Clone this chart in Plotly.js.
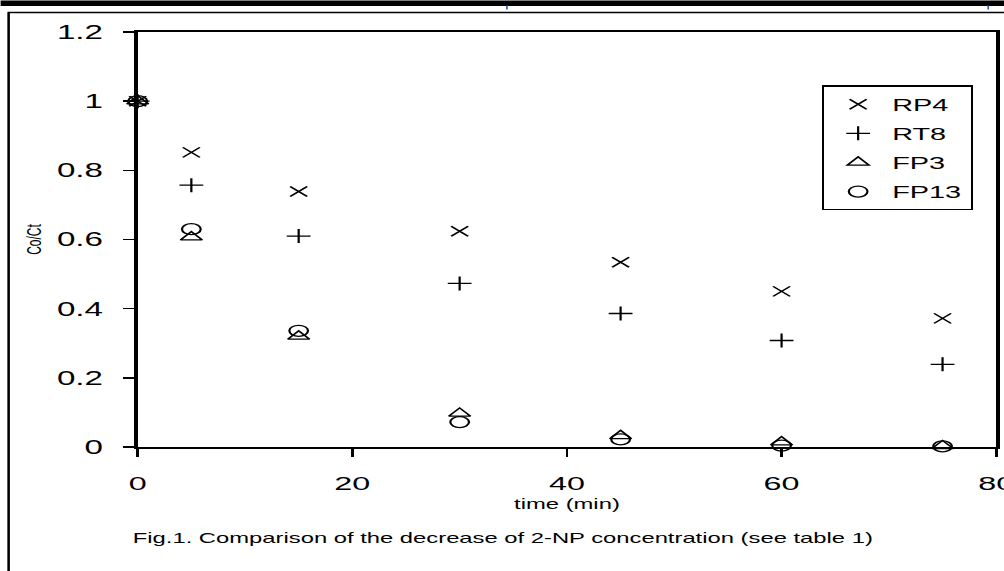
<!DOCTYPE html>
<html>
<head>
<meta charset="utf-8">
<script src="https://cdn.plot.ly/plotly-3.0.1.min.js"></script>
<style>
  html, body { margin: 0; padding: 0; background: #ffffff; overflow: hidden; }
  #chart { position: absolute; left: 0; top: 0; transform-origin: 0 0; }
</style>
</head>
<body>
<div id="chart"></div>
<script>
// ---- data ----
const time = [0, 5, 15, 30, 45, 60, 75];
const rp4  = [1, 0.852, 0.739, 0.624, 0.534, 0.450, 0.372];
const rt8  = [1, 0.757, 0.610, 0.473, 0.386, 0.308, 0.239];
const fp3  = [1, 0.607, 0.320, 0.097, 0.032, 0.014, 0.003];
const fp13 = [1, 0.630, 0.336, 0.072, 0.022, 0.004, 0.002];
const seriesNames = ["RP4", "RT8", "FP3", "FP13"];
const xTicks = [0, 20, 40, 60, 80];
const yTicks = [0, 0.2, 0.4, 0.6, 0.8, 1, 1.2];
const captionText = "Fig.1. Comparison of the decrease of 2-NP concentration (see table 1)";

// ---- geometry (the reference is horizontally stretched) ----
const S = 1.7;               // horizontal stretch
const FW = 1004, H = 571;    // final size
const W = FW / S;            // internal width
const L = 137 / S, R = W - 995 / S, T = 31.5, B = H - 446.6;
const PW = W - L - R, PH = H - T - B;
const px = fx => (fx / S - L) / PW;     // final px -> paper x
const py = fy => (H - B - fy) / PH;     // final px -> paper y

const el = document.getElementById('chart');
el.style.width = W + 'px';
el.style.height = H + 'px';
el.style.transform = 'scaleX(' + S + ')';

const FONT = 'Liberation Sans, Arial, sans-serif';
const symbols = ['x-thin-open', 'cross-thin-open', 'triangle-up-open', 'circle-open'];
const sizes = [10, 10, 11, 11];
const ys = [rp4, rt8, fp3, fp13];

const traces = ys.map((y, i) => ({
  type: 'scatter', mode: 'markers', x: time, y: y, name: seriesNames[i],
  legendgroup: 'g' + i,
  marker: { symbol: symbols[i], size: sizes[i], color: '#000', line: { color: '#000', width: 1.3 } },
  cliponaxis: false
}));

const shapes = [
  // thick bar at very top
  { type: 'rect', xref: 'paper', yref: 'paper', x0: px(0), x1: px(FW), y0: py(0), y1: py(5.5),
    fillcolor: '#000', line: { width: 0 } },
  // frame top border
  { type: 'line', xref: 'paper', yref: 'paper', x0: px(7), x1: px(FW + 5), y0: py(12), y1: py(12),
    line: { color: '#000', width: 1.6 } },
  // frame left border
  { type: 'line', xref: 'paper', yref: 'paper', x0: px(8), x1: px(8), y0: py(12), y1: py(H + 5),
    line: { color: '#000', width: 1.5 } },
  // little blue marks under the top bar
  { type: 'line', xref: 'paper', yref: 'paper', x0: px(506), x1: px(506), y0: py(5), y1: py(9),
    line: { color: '#3a5fa8', width: 1 } },
  { type: 'line', xref: 'paper', yref: 'paper', x0: px(987), x1: px(987), y0: py(5), y1: py(9),
    line: { color: '#3a5fa8', width: 1 } }
];

const layout = {
  width: W, height: H,
  margin: { l: L, r: R, t: T, b: B, pad: 0 },
  paper_bgcolor: '#fff', plot_bgcolor: '#fff',
  font: { family: FONT, color: '#000' },
  showlegend: true,
  legend: {
    x: px(821), y: py(85), xanchor: 'left', yanchor: 'top',
    bgcolor: '#fff', bordercolor: '#000', borderwidth: 1.2,
    font: { family: FONT, size: 17, color: '#000' },
    traceorder: 'grouped', tracegroupgap: 4, itemwidth: 30
  },
  xaxis: {
    range: [0, 80], tickvals: xTicks, ticktext: xTicks.map(String),
    showgrid: false, zeroline: false,
    showline: true, linecolor: '#000', linewidth: 2, mirror: true,
    ticks: 'outside', ticklen: 8, tickwidth: 1.6, tickcolor: '#000',
    ticklabelstandoff: 10, ticklabeloverflow: 'allow',
    tickfont: { family: FONT, size: 19, color: '#000' },
    title: { text: 'time (min)', font: { family: FONT, size: 14, color: '#000' }, standoff: 6 }
  },
  yaxis: {
    range: [0, 1.2], tickvals: yTicks, ticktext: yTicks.map(String),
    showgrid: false, zeroline: false,
    showline: true, linecolor: '#000', linewidth: 2, mirror: true,
    ticks: 'outside', ticklen: 6.5, tickwidth: 1.6, tickcolor: '#000',
    ticklabelstandoff: 8, ticklabeloverflow: 'allow',
    tickfont: { family: FONT, size: 19.5, color: '#000' },
    title: { text: 'Co/Ct', font: { family: FONT, size: 12, color: '#000' }, standoff: 6 }
  },
  shapes: shapes,
  annotations: [{
    text: captionText, xref: 'paper', yref: 'paper', x: px(128), y: py(538),
    xanchor: 'left', yanchor: 'middle', showarrow: false,
    font: { family: FONT, size: 14, color: '#000' }
  }]
};

Plotly.newPlot(el, traces, layout, { staticPlot: true, displayModeBar: false, responsive: false });
</script>
</body>
</html>
